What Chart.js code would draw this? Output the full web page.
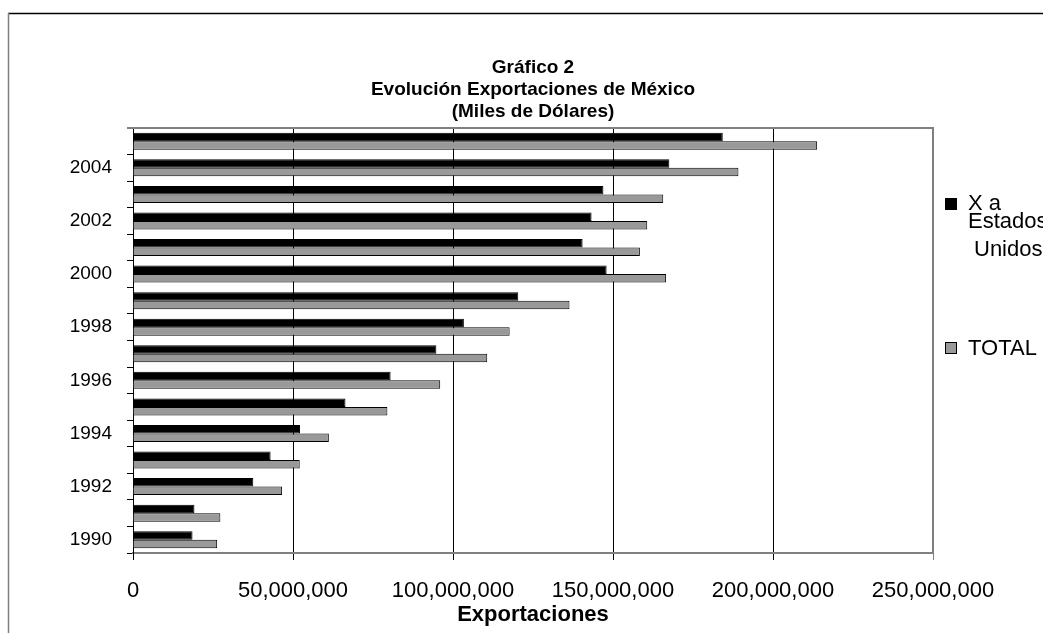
<!DOCTYPE html>
<html><head><meta charset="utf-8">
<script src="https://cdn.jsdelivr.net/npm/chart.js@4.4.1/dist/chart.umd.min.js"></script>
<style>
html,body{margin:0;padding:0;background:#fff;}
#wrap{position:relative;width:1043px;height:633px;overflow:hidden;background:#fff;}
canvas{position:absolute;left:0;top:0;}
.leg{position:absolute;font-family:"Liberation Sans",Arial,sans-serif;font-size:22px;color:#000;white-space:nowrap;line-height:22px;}
.sw{position:absolute;width:10px;height:10px;border:1px solid #000;}
</style></head><body>
<div id="wrap">
<canvas id="c" width="1043" height="633"></canvas>
<div class="sw" style="left:945px;top:198px;background:#000"></div>
<div class="leg" style="left:968px;top:192px">X a</div>
<div class="leg" style="left:968px;top:210px">Estados</div>
<div class="leg" style="left:974px;top:238px">Unidos</div>
<div class="sw" style="left:945px;top:342px;background:#999999"></div>
<div class="leg" style="left:968px;top:337px">TOTAL</div>
</div>
<script>
// Data (thousands of US dollars), 1990 -> 2005
const years = [1990,1991,1992,1993,1994,1995,1996,1997,1998,1999,2000,2001,2002,2003,2004,2005];
const exportsUS = [18600000,19200000,37600000,43000000,52200000,66400000,80500000,94800000,103400000,120400000,148000000,140500000,143300000,147000000,167600000,184300000];
const exportsTotal = [26300000,27300000,46600000,52100000,61200000,79500000,96000000,110700000,117700000,136400000,166600000,158400000,160700000,165700000,189200000,213800000];
const seriesNames = ['X a Estados Unidos','TOTAL'];
const xTicks = [0,50000000,100000000,150000000,200000000,250000000];
const titleLines = ['Gráfico 2','Evolución Exportaciones de México','(Miles de Dólares)'];
const xTitle = 'Exportaciones';

const FONT = '"Liberation Sans", Arial, sans-serif';
const labelsTopDown = years.slice().reverse();
const fmt = v => String(v).replace(/\B(?=(\d{3})+(?!\d))/g, ',');

const framePlugin = {
  id: 'frame',
  afterDraw(chart) {
    const ctx = chart.ctx, a = chart.chartArea;
    ctx.save();
    ctx.strokeStyle = '#808080';
    ctx.lineWidth = 2;
    ctx.beginPath();
    ctx.moveTo(a.left - 6, a.top);
    ctx.lineTo(a.right, a.top);
    ctx.lineTo(a.right, a.bottom);
    ctx.stroke();
    // outer chart frame
    ctx.lineWidth = 1.5;
    ctx.strokeStyle = '#000';
    ctx.beginPath();
    ctx.moveTo(8, 13.5); ctx.lineTo(1043, 13.5); ctx.stroke();
    ctx.strokeStyle = '#808080';
    ctx.beginPath();
    ctx.moveTo(8.5, 13); ctx.lineTo(8.5, 633); ctx.stroke();
    ctx.restore();
  }
};

new Chart(document.getElementById('c'), {
  type: 'bar',
  data: {
    labels: labelsTopDown,
    datasets: [
      { label: seriesNames[0], data: exportsUS.slice().reverse(), backgroundColor: '#000000', borderColor: '#000000', borderWidth: 1, barPercentage: 1.0, categoryPercentage: 0.64 },
      { label: seriesNames[1], data: exportsTotal.slice().reverse(), backgroundColor: '#999999', borderColor: '#000000', borderWidth: 1, barPercentage: 1.0, categoryPercentage: 0.64 }
    ]
  },
  options: {
    indexAxis: 'y',
    responsive: false,
    animation: false,
    layout: { padding: { left: 23, right: 0, top: 0, bottom: 0 } },
    plugins: {
      legend: { display: false },
      tooltip: { enabled: false },
      title: {
        display: true, text: titleLines, color: '#000',
        font: { family: FONT, size: 19, weight: 'bold', lineHeight: 22/19 },
        padding: { top: 57, bottom: 5 }
      }
    },
    scales: {
      x: {
        type: 'linear', min: 0, max: 250000000,
        afterBuildTicks: s => { s.ticks = xTicks.map(v => ({ value: v })); },
        afterFit: s => { s.height = 80; },
        ticks: { color: '#000', font: { family: FONT, size: 22 }, padding: 18, callback: v => fmt(v), maxRotation: 0 },
        grid: { color: ctx => (ctx.tick && ctx.tick.value === 250000000) ? '#808080' : '#000', lineWidth: 1, tickLength: 7, drawTicks: true },
        border: { display: true, color: '#808080', width: 2 },
        title: { display: true, text: xTitle, color: '#000', font: { family: FONT, size: 22, weight: 'bold' }, padding: { top: 0, bottom: 5 } }
      },
      y: {
        type: 'category',
        afterFit: s => { s.width = 110; },
        ticks: { color: '#000', font: { family: FONT, size: 19 }, padding: 15, autoSkip: false,
          callback: function(v, i) { const yr = labelsTopDown[i]; return yr % 2 === 0 ? String(yr) : ''; } },
        grid: { drawOnChartArea: false, drawTicks: true, tickLength: 6, color: '#000', offset: true },
        border: { display: true, color: '#000', width: 1 }
      },
      y2: {
        type: 'category', position: 'right', display: true,
        afterFit: s => { s.width = 110; },
        ticks: { display: false }, grid: { display: false }, border: { display: false }
      }
    }
  },
  plugins: [framePlugin]
});
</script>
</body></html>
